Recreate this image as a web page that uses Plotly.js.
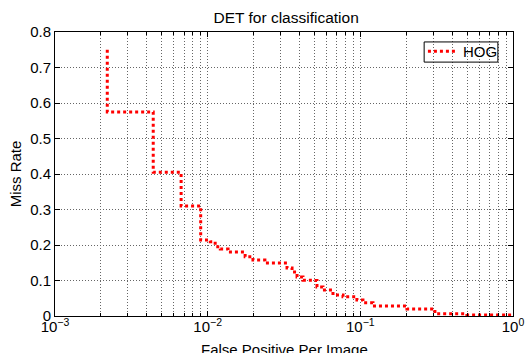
<!DOCTYPE html>
<html>
<head>
<meta charset="utf-8">
<script src="https://cdn.plot.ly/plotly-3.0.1.min.js"></script>
<style>html,body{margin:0;padding:0;background:#fff;}#chart{width:525px;height:353px;}</style>
</head>
<body>
<div id="chart"></div>
<script>
var seriesName = "HOG";
var xTitle = "False Positive Per Image";
var fppi = [0.0022, 0.0022, 0.0044, 0.0067, 0.0090, 0.0104, 0.0112, 0.0121, 0.0136, 0.0163, 0.0176, 0.0198, 0.0237, 0.0284, 0.0331, 0.0357, 0.0385, 0.0421, 0.0490, 0.0520, 0.0569, 0.0662, 0.0770, 0.0950, 0.104, 0.121, 0.202, 0.308, 0.499, 1.0];
var missRate = [0.75, 0.575, 0.405, 0.31, 0.214, 0.209, 0.195, 0.189, 0.18, 0.18, 0.167, 0.158, 0.149, 0.149, 0.135, 0.124, 0.11, 0.101, 0.1, 0.082, 0.073, 0.059, 0.054, 0.045, 0.037, 0.028, 0.02, 0.006, 0.003, 0.0];
var xTicks = [0.001, 0.01, 0.1, 1];
var xTickText = ["10<sup>−3</sup>", "10<sup>−2</sup>", "10<sup>−1</sup>", "10<sup>0</sup>"];
var yTicks = [0, 0.1, 0.2, 0.3, 0.4, 0.5, 0.6, 0.7, 0.8];
var yTickText = ["0", "0.1", "0.2", "0.3", "0.4", "0.5", "0.6", "0.7", "0.8"];

var fam = "Liberation Sans, Arial, sans-serif";
var gridDash = "1px,2px";
var gridColor = "#666";

var trace = {
  x: fppi, y: missRate, type: "scatter", mode: "lines", name: seriesName,
  line: {color: "#ff0000", width: 3, dash: "3px,3px", shape: "hv"}
};

var layout = {
  width: 525, height: 353,
  margin: {l: 55, r: 12, t: 32, b: 37},
  paper_bgcolor: "#fff", plot_bgcolor: "#fff",
  font: {family: fam, size: 15, color: "#000"},
  title: {text: "DET for classification", font: {family: fam, size: 15.5, color: "#000"}, x: 0.545, xanchor: "center", y: 0.95, yanchor: "middle"},
  showlegend: true,
  legend: {x: 0.978, y: 0.989, xanchor: "right", yanchor: "top", bgcolor: "rgba(0,0,0,0)", borderwidth: 0, font: {family: fam, size: 15, color: "#000"}, itemwidth: 30},
  shapes: [
    {type: "rect", xref: "paper", yref: "paper", x0: 0.806, x1: 0.967, y0: 0.894, y1: 0.965, line: {color: "#000", width: 1}, fillcolor: "rgba(0,0,0,0)", layer: "above"}
  ],
  annotations: [
    {text: xTitle, xref: "paper", yref: "paper", x: 0.5, y: -0.081, xanchor: "center", yanchor: "top", showarrow: false, font: {family: fam, size: 15, color: "#000"}}
  ],
  xaxis: {
    type: "log", range: [-3, 0], tickmode: "array", tickvals: xTicks, ticktext: xTickText,
    showline: true, linecolor: "#000", linewidth: 1, mirror: "ticks",
    ticks: "inside", ticklen: 5, tickcolor: "#000", ticklabelstandoff: -3,
    showgrid: true, gridcolor: gridColor, griddash: gridDash, gridwidth: 1,
    minor: {dtick: "D1", showgrid: true, gridcolor: gridColor, griddash: gridDash, gridwidth: 1, ticks: "inside", ticklen: 3, tickcolor: "#000"},
    zeroline: false, tickfont: {family: fam, size: 15, color: "#000"},
    automargin: false
  },
  yaxis: {
    range: [0, 0.8], tickmode: "array", tickvals: yTicks, ticktext: yTickText,
    showline: true, linecolor: "#000", linewidth: 1, mirror: "ticks",
    ticks: "inside", ticklen: 5, tickcolor: "#000",
    showgrid: true, gridcolor: gridColor, griddash: gridDash, gridwidth: 1,
    zeroline: false, tickfont: {family: fam, size: 15, color: "#000"},
    title: {text: "Miss Rate", font: {family: fam, size: 15, color: "#000"}, standoff: 4},
    automargin: false
  }
};

Plotly.newPlot("chart", [trace], layout, {staticPlot: true, displayModeBar: false});
</script>
</body>
</html>
